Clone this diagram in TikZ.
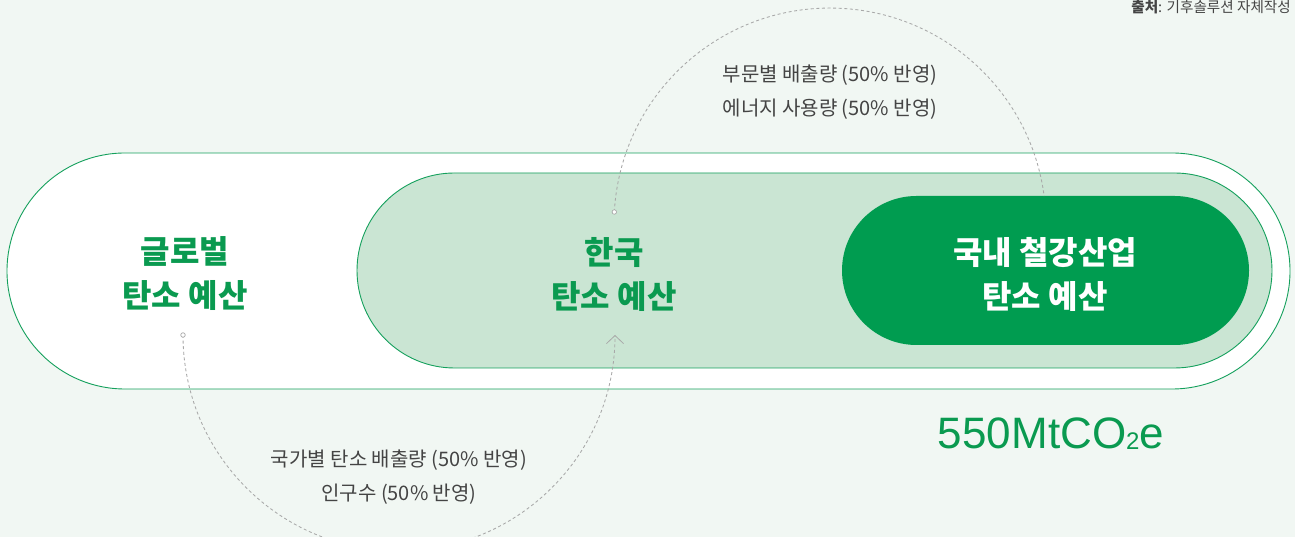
\documentclass[tikz,border=0pt]{standalone}
\usepackage{fontspec}
\setmainfont{Liberation Sans}
\newfontfamily\kr{Noto Sans CJK KR}
\newfontfamily\lat{Liberation Sans}
\usetikzlibrary{shapes.misc,arrows.meta}
\definecolor{bgc}{HTML}{F1F7F3}
\definecolor{gline}{HTML}{14A05C}
\definecolor{midfill}{HTML}{CAE5D3}
\definecolor{darkg}{HTML}{009C50}
\definecolor{gtext}{HTML}{0A9A50}
\definecolor{graytext}{HTML}{444444}
\definecolor{dashc}{HTML}{A8A8A8}
\tikzset{
  pill/.style={rounded rectangle, draw=gline, line width=0.9pt, inner sep=0pt},
  biglabel/.style={font=\kr\bfseries\fontsize{32}{44}\selectfont, align=center, text=gtext},
  smalllabel/.style={font=\kr\fontsize{20}{34}\selectfont, align=center, text=graytext},
  dashline/.style={draw=dashc, line width=0.85pt, dash pattern=on 3pt off 2.6pt},
  startdot/.style={circle, draw=dashc, line width=0.7pt, fill=white, minimum size=4.5pt, inner sep=0pt}
}
\begin{document}
\begin{tikzpicture}[x=1pt,y=1pt]
\fill[bgc] (0,0) rectangle (1295,537);
\useasboundingbox (0,0) rectangle (1295,537);
% pills
\node[pill, fill=white, minimum width=1283pt, minimum height=236pt] (outer) at (648.5,266) {};
\node[pill, fill=midfill, minimum width=915pt, minimum height=195pt] (middle) at (814.5,266.5) {};
\node[pill, draw=none, fill=darkg, minimum width=407pt, minimum height=149pt] (inner) at (1045.5,266.5) {};
% labels
\node[biglabel] (glb) at (185,263) {글로벌\\탄소 예산};
\node[biglabel] (kor) at (614,263) {한국\\탄소 예산};
\node[biglabel, text=white] (steel) at (1045,263) {국내 철강산업\\탄소 예산};
% texts
\node[smalllabel] (uptext) at (830,445) {부문별 배출량 (50\% 반영)\\에너지 사용량 (50\% 반영)};
\node[smalllabel] (lowtext) at (399,60) {국가별 탄소 배출량 (50\% 반영)\\인구수 (50\% 반영)};
\node[text=gtext, font=\lat\fontsize{44}{44}\selectfont, inner sep=0pt] (budget) at (1051,103) {550MtCO\raisebox{-1pt}{\fontsize{24}{24}\selectfont 2}e};
\node[anchor=east, text=graytext, font=\kr\fontsize{14.6}{15}\selectfont, inner sep=0pt] (src) at (1291,530) {\textbf{출처}: 기후솔루션 자체작성};
% connectors
\coordinate (s1) at (183,202);
\coordinate (s2) at (614.3,325);
\draw[dashline, -{Straight Barb[length=8pt,width=17pt,line width=0.8pt]}] (s1) arc[start angle=180, end angle=360, radius=216];
\draw[dashline] (s2) arc[start angle=176.8, end angle=7.45, radius=216];
\node[startdot] (d1) at (s1) {};
\node[startdot] (d2) at (s2) {};
\end{tikzpicture}
\end{document}
